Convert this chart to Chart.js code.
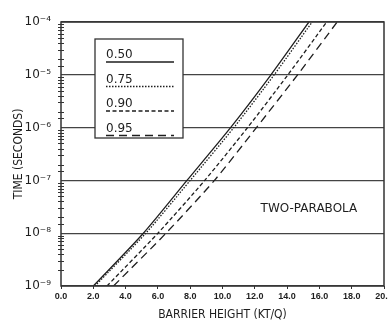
<!DOCTYPE html>
<html>
<head>
<meta charset="utf-8">
<script src="https://cdn.jsdelivr.net/npm/chart.js@4.4.1/dist/chart.umd.min.js"></script>
<style>
  html, body { margin: 0; padding: 0; background: #fff; overflow: hidden; }
  #wrap { width: 388px; height: 322px; position: relative; }
</style>
</head>
<body>
<div id="wrap"><canvas id="chart"></canvas></div>
<script>
// Two-parabola barrier: time vs barrier height, one curve per probability level

const times = [1e-9, 1e-8, 1e-7, 1e-6, 1e-5, 1e-4];
const seriesLabels = ['0.50', '0.75', '0.90', '0.95'];
const barrier050 = [2.0, 5.1, 7.8, 10.5, 13.0, 15.35];
const barrier075 = [2.1, 5.25, 8.0, 10.7, 13.2, 15.55];
const barrier090 = [2.85, 6.0, 8.9, 11.55, 14.05, 16.45];
const barrier095 = [3.25, 6.5, 9.5, 12.1, 14.65, 17.1];
const xTicks = [0, 2, 4, 6, 8, 10, 12, 14, 16, 18, 20];
const supers = { '-': '\u207B', '4': '\u2074', '5': '\u2075', '6': '\u2076', '7': '\u2077', '8': '\u2078', '9': '\u2079' };

const ink = '#1e1e1e';
const dashes = [[], [1.5, 1.5], [4, 2.5], [8, 5]];

function toPoints(xs) {
    return xs.map((x, i) => ({ x: x, y: times[i] }));
}

const allSeries = [barrier050, barrier075, barrier090, barrier095];

const datasets = allSeries.map((s, i) => ({
    label: seriesLabels[i],
    data: toPoints(s),
    borderColor: ink,
    borderWidth: 1.3,
    borderDash: dashes[i],
    pointRadius: 0,
    tension: 0.25,
    fill: false
}));

function isDecade(v) {
    const l = Math.log10(v);
    return Math.abs(l - Math.round(l)) < 1e-6;
}

// frame, minor ticks, boxed legend and the note
const decor = {
    id: 'decor',
    afterDatasetsDraw(chart) {
        const ctx = chart.ctx;
        const a = chart.chartArea;
        const ys = chart.scales.y;
        const xs = chart.scales.x;
        ctx.save();

        // frame
        ctx.strokeStyle = '#333';
        ctx.lineWidth = 1.5;
        ctx.strokeRect(a.left, a.top, a.right - a.left, a.bottom - a.top);

        // minor ticks across the left axis
        ctx.lineWidth = 1;
        ys.ticks.forEach(t => {
            if (isDecade(t.value)) return;
            const py = Math.round(ys.getPixelForValue(t.value)) + 0.5;
            ctx.beginPath();
            ctx.moveTo(a.left - 3, py);
            ctx.lineTo(a.left + 3, py);
            ctx.stroke();
        });

        // legend box
        const bx = a.left + 34, by = a.top + 17, bw = 88, bh = 99;
        ctx.fillStyle = '#fff';
        ctx.fillRect(bx, by, bw, bh);
        ctx.strokeStyle = '#333';
        ctx.lineWidth = 1.3;
        ctx.strokeRect(bx, by, bw, bh);

        ctx.font = '12px "DejaVu Sans"';
        ctx.fillStyle = ink;
        ctx.textBaseline = 'alphabetic';
        ctx.textAlign = 'left';
        seriesLabels.forEach((lab, i) => {
            const ty = by + 19 + i * 24.5;
            ctx.fillText(lab, bx + 11, ty);
            ctx.beginPath();
            ctx.setLineDash(dashes[i]);
            ctx.strokeStyle = ink;
            ctx.lineWidth = 1.5;
            ctx.moveTo(bx + 11, ty + 4);
            ctx.lineTo(bx + 79, ty + 4);
            ctx.stroke();
        });
        ctx.setLineDash([]);

        // note
        ctx.font = '12px "DejaVu Sans"';
        ctx.textAlign = 'center';
        ctx.textBaseline = 'middle';
        ctx.fillText('TWO-PARABOLA', xs.getPixelForValue(15.35), ys.getPixelForValue(2.9e-8));
        ctx.restore();
    }
};

new Chart(document.getElementById('chart'), {
    type: 'line',
    data: { datasets: datasets },
    plugins: [decor],
    options: {
        responsive: true,
        maintainAspectRatio: false,
        animation: false,
        layout: { padding: { top: 22, right: 4, left: 12, bottom: 0 } },
        plugins: { legend: { display: false }, tooltip: { enabled: false } },
        scales: {
            x: {
                type: 'linear',
                min: 0,
                max: 20,
                afterBuildTicks: (scale) => { scale.ticks = xTicks.map(v => ({ value: v })); },
                afterFit: (scale) => {
                    scale.height = 36;
                    scale.paddingLeft = 0;
                    scale.paddingRight = 0;
                },
                grid: { drawOnChartArea: false, drawTicks: true, tickLength: 3, color: '#333' },
                border: { display: false },
                ticks: {
                    color: ink,
                    padding: 2,
                    maxRotation: 0,
                    font: { family: '"Liberation Sans"', size: 9, weight: 'bold' },
                    callback: (v) => v.toFixed(1)
                },
                title: {
                    display: true,
                    text: 'BARRIER HEIGHT (KT/Q)',
                    color: ink,
                    font: { family: '"DejaVu Sans Condensed"', size: 12 },
                    padding: { top: 1, bottom: 0 }
                }
            },
            y: {
                type: 'logarithmic',
                min: 1e-9,
                max: 1e-4,
                afterFit: (scale) => {
                    scale.width = 49;
                    scale.paddingTop = 0;
                    scale.paddingBottom = 0;
                },
                grid: {
                    drawTicks: false,
                    lineWidth: 1.3,
                    color: (c) => (c.tick && isDecade(c.tick.value)) ? '#444' : 'rgba(0,0,0,0)'
                },
                border: { display: false },
                ticks: {
                    color: ink,
                    padding: 10,
                    autoSkip: false,
                    font: { family: '"DejaVu Sans"', size: 12 },
                    callback: (v) => {
                        if (!isDecade(v)) return '';
                        const e = String(Math.round(Math.log10(v)));
                        return '10' + e.split('').map(ch => supers[ch]).join('');
                    }
                },
                title: {
                    display: true,
                    text: 'TIME (SECONDS)',
                    color: ink,
                    font: { family: '"DejaVu Sans Condensed"', size: 12 },
                    padding: { top: 0, bottom: 2 }
                }
            }
        }
    }
});
</script>
</body>
</html>
